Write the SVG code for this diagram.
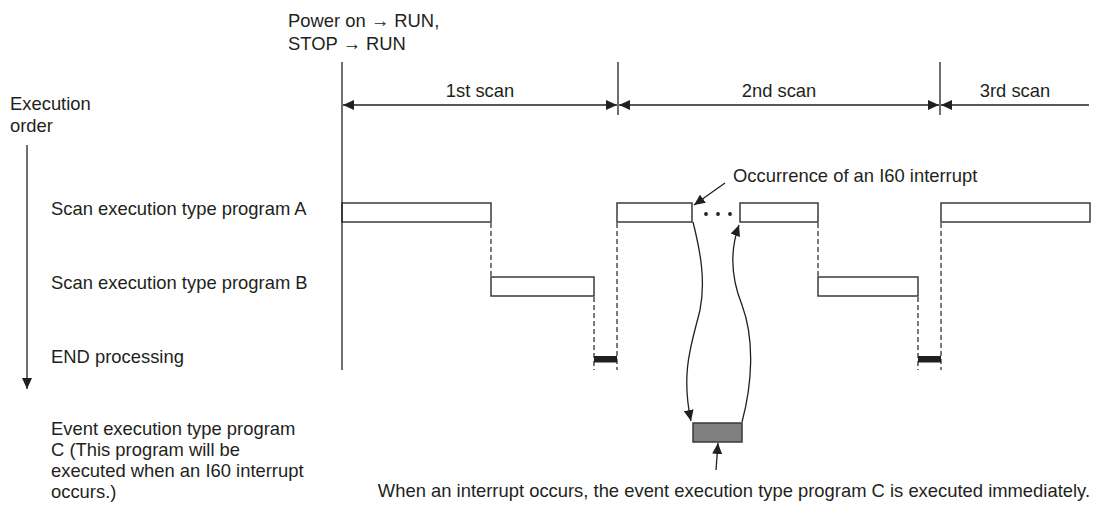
<svg xmlns="http://www.w3.org/2000/svg" width="1096" height="506" viewBox="0 0 1096 506">
<style>
text{font-family:"Liberation Sans",Arial,sans-serif;font-size:18.4px;fill:#231f20}
.ln{stroke:#231f20;stroke-width:1.3;fill:none}
.box{fill:#fff;stroke:#3a3a3a;stroke-width:1.5}
.dash{stroke:#231f20;stroke-width:1.2;stroke-dasharray:5 3;fill:none}
</style>
<defs>
<marker id="ah" viewBox="0 0 11 10" refX="11" refY="5" markerWidth="11" markerHeight="10" markerUnits="userSpaceOnUse" orient="auto-start-reverse">
<path d="M0,0 L11,5 L0,10 z" fill="#231f20"/>
</marker>
</defs>
<rect width="1096" height="506" fill="#fff"/>
<g id="header">
<text x="288" y="27">Power on → RUN,</text>
<text x="288" y="50">STOP → RUN</text>
</g>
<g id="order">
<text x="10" y="110">Execution</text>
<text x="10" y="132">order</text>
</g>
<g id="labels">
<text x="51" y="215">Scan execution type program A</text>
<text x="51" y="289">Scan execution type program B</text>
<text x="51" y="363">END processing</text>
<text x="51" y="435">Event execution type program</text>
<text x="51" y="456">C (This program will be</text>
<text x="51" y="477">executed when an I60 interrupt</text>
<text x="51" y="498">occurs.)</text>
</g>
<g id="scans">
<text x="480" y="97" text-anchor="middle">1st scan</text>
<text x="779" y="97" text-anchor="middle">2nd scan</text>
<text x="1015" y="97" text-anchor="middle">3rd scan</text>
</g>
<g id="progA">
<rect class="box" x="342" y="203" width="149" height="19"/>
<rect class="box" x="617" y="203" width="75" height="19"/>
<rect class="box" x="740" y="203" width="78" height="19"/>
<rect class="box" x="941" y="203" width="149" height="19"/>
<circle cx="706" cy="214" r="1.9" fill="#231f20"/>
<circle cx="718" cy="214" r="1.9" fill="#231f20"/>
<circle cx="730" cy="214" r="1.9" fill="#231f20"/>
</g>
<g id="progB">
<rect class="box" x="491" y="277" width="103" height="19"/>
<rect class="box" x="818" y="277" width="100" height="19"/>
</g>
<g id="endproc">
<rect x="594" y="356" width="23" height="6.5" fill="#231f20"/>
<rect x="918" y="356" width="23" height="6.5" fill="#231f20"/>
</g>
<g id="progC">
<rect x="693" y="423" width="49" height="19" fill="#808080" stroke="#3a3a3a" stroke-width="1.5"/>
</g>
<g id="connectors">
<line class="ln" x1="342" y1="62" x2="342" y2="370"/>
<line class="ln" x1="618" y1="62" x2="618" y2="115"/>
<line class="ln" x1="940" y1="62" x2="940" y2="115"/>
<line class="ln" x1="343" y1="105" x2="617" y2="105" marker-start="url(#ah)" marker-end="url(#ah)"/>
<line class="ln" x1="619" y1="105" x2="939" y2="105" marker-start="url(#ah)" marker-end="url(#ah)"/>
<line class="ln" x1="941" y1="105" x2="1089" y2="105" marker-start="url(#ah)"/>
<line class="ln" x1="27" y1="145" x2="27" y2="389" marker-end="url(#ah)"/>
<line class="dash" x1="491" y1="223" x2="491" y2="277"/>
<line class="dash" x1="594" y1="297" x2="594" y2="370"/>
<line class="dash" x1="617" y1="223" x2="617" y2="370"/>
<line class="dash" x1="818" y1="223" x2="818" y2="277"/>
<line class="dash" x1="918" y1="297" x2="918" y2="370"/>
<line class="dash" x1="941" y1="223" x2="941" y2="370"/>
<line class="ln" x1="725" y1="183" x2="694" y2="205" marker-end="url(#ah)"/>
<path class="ln" d="M693,222 C700,250 706,280 700,310 C693,340 680,370 691,421" marker-end="url(#ah)"/>
<path class="ln" d="M742,422 C752,385 755,340 742,305 C730,275 730,250 739,225" marker-end="url(#ah)"/>
<line class="ln" x1="716" y1="470" x2="718" y2="443" marker-end="url(#ah)"/>
</g>
<g id="notes">
<text x="733" y="182">Occurrence of an I60 interrupt</text>
<text x="1090" y="497" text-anchor="end">When an interrupt occurs, the event execution type program C is executed immediately.</text>
</g>
</svg>
